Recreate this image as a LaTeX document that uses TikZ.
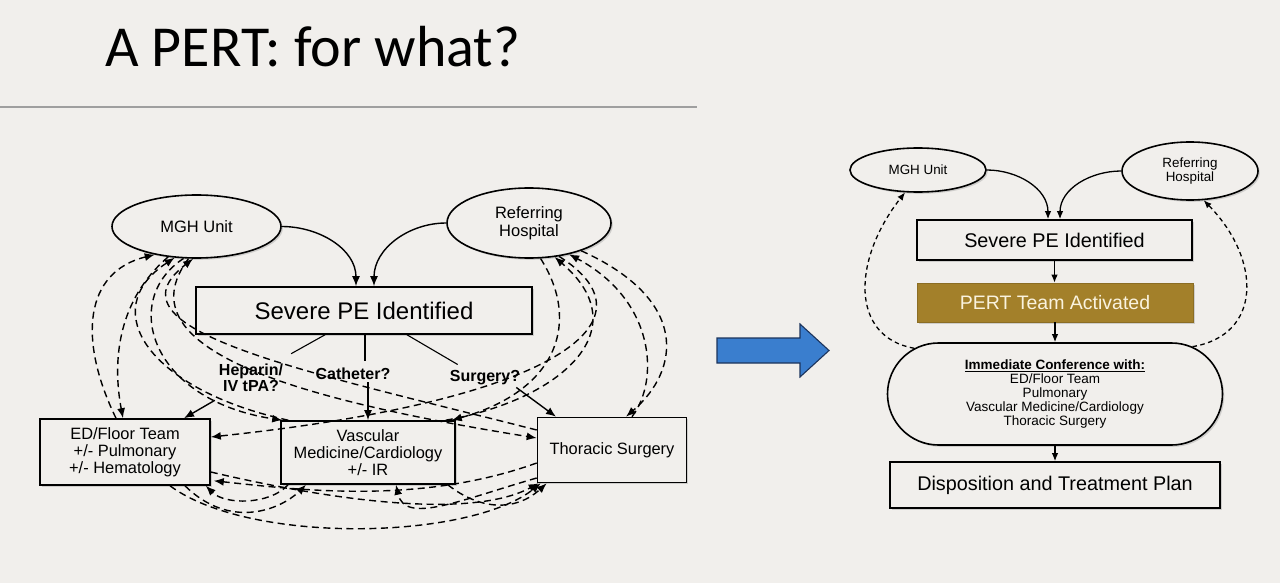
\documentclass[tikz,border=0pt]{standalone}
\usepackage{fontspec}
\setmainfont{Liberation Sans}
\newfontfamily\titlefont{Carlito}
\usetikzlibrary{
	arrows.meta,
	calc,
	positioning,
	shapes.geometric,
	shapes.misc,
	shadows
}
\definecolor{SlideBg}{RGB}{241,239,236}
\definecolor{PertGold}{RGB}{163,128,42}
\definecolor{PertText}{RGB}{250,243,222}
\definecolor{ArrowBlue}{RGB}{58,126,206}
\definecolor{ArrowEdge}{RGB}{28,52,92}

\tikzset{
	boxshadow/.style={drop shadow={shadow xshift=1.8pt, shadow yshift=-1.8pt, opacity=0.3}},
	oval/.style={ellipse, draw, line width=1.6pt, fill=SlideBg, boxshadow, inner sep=0pt, align=center},
	box/.style={rectangle, draw, line width=1.6pt, fill=SlideBg, boxshadow, inner sep=0pt, align=center},
	qlabel/.style={font=\bfseries\fontsize{16}{16.5}\selectfont, align=center, inner sep=2pt},
	arr/.style={-{Latex[length=10pt,width=8pt]}, line width=1.4pt},
	dsh/.style={arr, dash pattern=on 7pt off 4.5pt},
	arrS/.style={-{Latex[length=8pt,width=6.5pt]}, line width=1.3pt},
	dshS/.style={arrS, dash pattern=on 4.5pt off 3.5pt}
}

\begin{document}
\begin{tikzpicture}[x=1pt, y=1pt]
		\fill[SlideBg] (0,0) rectangle (1280,-583);
		\useasboundingbox (0,0) rectangle (1280,-583);
		
		% title
		\node[anchor=base west, inner sep=0pt, font=\titlefont\fontsize{58}{64}\selectfont] (title) at (105,-67) {A PERT: for what?};
		\draw[gray!75, line width=1.3pt] (0,-107) -- (697,-107);
		
		% left: before
		\node[oval, minimum width=169pt, minimum height=63pt, font=\fontsize{16.5}{17}\selectfont] (mghA) at (196.5,-226.5) {MGH Unit};
		\node[oval, minimum width=164pt, minimum height=70pt, font=\fontsize{16.5}{17.5}\selectfont] (refA) at (529,-223) {Referring\\Hospital};
		\node[box, minimum width=336pt, minimum height=47pt, font=\fontsize{24}{26}\selectfont] (severeA) at (364,-310.5) {Severe PE Identified};
		\node[box, minimum width=170pt, minimum height=66pt, font=\fontsize{16.4}{16.8}\selectfont] (edA) at (125,-452) {ED/Floor Team\\+/- Pulmonary\\+/- Hematology};
		\node[box, minimum width=174pt, minimum height=63pt, font=\fontsize{16.4}{16.8}\selectfont] (vascA) at (368,-452.5) {Vascular\\Medicine/Cardiology\\+/- IR};
		\node[box, minimum width=149pt, minimum height=65pt, font=\fontsize{16.4}{16.8}\selectfont] (thorA) at (612,-450) {Thoracic Surgery};
		\node[qlabel] (hepA) at (251,-378) {Heparin/\\IV tPA?};
		\node[qlabel] (catA) at (353,-374) {Catheter?};
		\node[qlabel] (surgA) at (485,-378) {Surgery?};
		
		\draw[arr] (mghA.east) to[out=0, in=90] ([xshift=-8pt]severeA.north);
		\draw[arr] (refA.west) to[out=180, in=90] ([xshift=10pt]severeA.north);
		\draw[line width=1.1pt] ([xshift=-39pt]severeA.south) -- ([shift={(6pt,8pt)}]hepA.north east);
		\draw[line width=1.1pt] ([xshift=1pt]severeA.south) -- ++(0,-26);
		\draw[line width=1.1pt] ([xshift=43pt]severeA.south) -- ([shift={(10pt,4pt)}]surgA.north west);
		\draw[arr] ([shift={(-2pt,-6pt)}]hepA.south west) -- ([xshift=59pt]edA.north);
		\draw[arr] (vascA.north |- catA.south) -- (vascA.north);
		\draw[arr] ([xshift=-6pt]surgA.south east) -- ([xshift=-56pt]thorA.north);
		
		% MGH unit links
		\draw[dsh] ([xshift=-9pt]edA.north) .. controls (78,-340) and (84,-272) .. (mghA.214);
		\draw[dsh] (mghA.227) .. controls (118,-300) and (112,-360) .. ([xshift=-2pt]edA.north);
		\draw[dsh] ([xshift=8pt]vascA.north west) .. controls (150,-390) and (95,-310) .. (mghA.235);
		\draw[dsh] (mghA.248) .. controls (120,-300) and (150,-400) .. ([xshift=2pt]vascA.north west);
		\draw[dsh] (mghA.256) .. controls (120,-350) and (300,-400) .. ([yshift=12pt]thorA.west);
		\draw[dsh] ([yshift=20pt]thorA.west) .. controls (300,-370) and (100,-330) .. (mghA.264);
		
		% referring hospital links
		\draw[dsh] (refA.288) .. controls (580,-320) and (560,-390) .. ([xshift=-4pt]vascA.north east);
		\draw[dsh] ([xshift=-10pt]vascA.north east) .. controls (560,-400) and (640,-330) .. (refA.307);
		\draw[dsh] (refA.312) .. controls (660,-320) and (560,-400) .. ([yshift=15pt]edA.east);
		\draw[dsh] ([xshift=20pt]thorA.north) .. controls (660,-380) and (655,-300) .. (refA.322);
		\draw[dsh] (refA.332) .. controls (690,-300) and (680,-370) .. ([xshift=14pt]thorA.north);
		
		% links below the boxes
		\draw[dsh] ([yshift=-20pt]edA.east) .. controls (330,-500) and (470,-520) .. ([xshift=2pt]thorA.south west);
		\draw[dsh] ([yshift=-13pt]thorA.west) .. controls (420,-505) and (300,-490) .. ([shift={(3pt,5pt)}]edA.south east);
		\draw[dsh] ([xshift=60pt]edA.south) .. controls (230,-530) and (280,-510) .. ([xshift=-62pt]vascA.south);
		\draw[dsh] ([xshift=-80pt]vascA.south) .. controls (270,-505) and (225,-505) .. ([xshift=-5pt]edA.south east);
		\draw[dsh] ([yshift=-28pt]thorA.west) .. controls (460,-500) and (405,-525) .. ([xshift=28pt]vascA.south);
		\draw[dsh] ([xshift=-8pt]vascA.south east) .. controls (480,-510) and (515,-512) .. ([xshift=10pt]thorA.south west);
		\draw[dsh] ([xshift=45pt]edA.south) .. controls (250,-545) and (470,-540) .. ([xshift=4pt]thorA.south west);
		
		% blue arrow
		\filldraw[fill=ArrowBlue, draw=ArrowEdge, line width=1.1pt] (717,-338) -- (800,-338) -- (800,-324) -- (829,-350.5) -- (800,-377) -- (800,-363) -- (717,-363) -- cycle;
		
		% right: with a PERT
		\node[oval, minimum width=136pt, minimum height=44pt, font=\fontsize{13.4}{14.5}\selectfont] (mghB) at (918,-170) {MGH Unit};
		\node[oval, minimum width=136pt, minimum height=58pt, font=\fontsize{13.4}{14.5}\selectfont] (refB) at (1190,-171) {Referring\\Hospital};
		\node[box, minimum width=275pt, minimum height=40pt, font=\fontsize{19.8}{22}\selectfont] (severeB) at (1054.5,-240) {Severe PE Identified};
		\node[box, draw=PertGold!85!black, line width=0.6pt, fill=PertGold, text=PertText, minimum width=276pt, minimum height=39pt, font=\fontsize{19.5}{22}\selectfont] (pertB) at (1055,-302.5) {PERT Team Activated};
		\node[box, rounded rectangle, minimum width=335pt, minimum height=102pt, font=\fontsize{13.5}{14}\selectfont] (confB) at (1055,-394) {\underline{\textbf{Immediate Conference with:}}\\ED/Floor Team\\Pulmonary\\Vascular Medicine/Cardiology\\Thoracic Surgery};
		\node[box, minimum width=330pt, minimum height=46pt, font=\fontsize{19.8}{22}\selectfont] (dispB) at (1055,-485) {Disposition and Treatment Plan};
		
		\draw[arrS] (mghB.east) to[out=0, in=90] ([xshift=-6.5pt]severeB.north);
		\draw[arrS] (refB.west) to[out=180, in=90] ([xshift=5.5pt]severeB.north);
		\draw[arrS] (severeB.south) -- (severeB.south |- pertB.north);
		\draw[arrS] (pertB.south) -- (confB.north);
		\draw[arrS] (confB.south) -- (dispB.north);
		\draw[dshS] (confB.162) .. controls (850,-337) and (852,-260) .. (mghB.240);
		\draw[dshS] (confB.19) .. controls (1262,-335) and (1262,-260) .. (refB.295);
	\end{tikzpicture}
\end{document}
